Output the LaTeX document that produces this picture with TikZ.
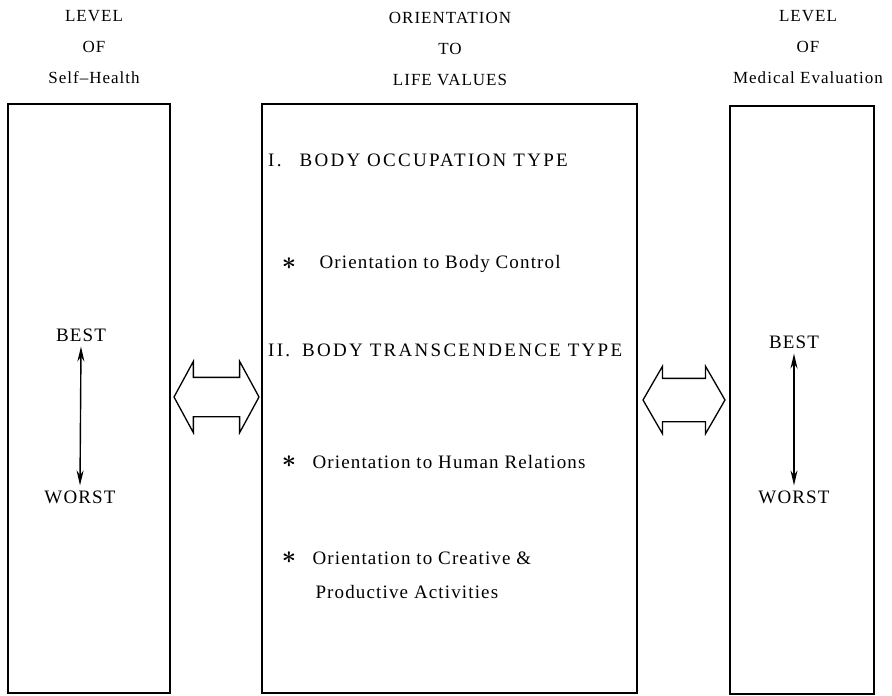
\documentclass[tikz,border=0pt]{standalone}
\usepackage{fontspec}
\setmainfont[LetterSpace=6]{Liberation Serif}
\usetikzlibrary{arrows.meta, positioning, shapes.arrows}

\begin{document}
\begin{tikzpicture}[x=1pt, y=-1pt,
    panel/.style={draw, line width=1.3pt, inner sep=0pt},
    headtext/.style={align=center, inner sep=0pt,
      font=\fontsize{17}{31}\selectfont},
    bodytext/.style={anchor=west, inner sep=0pt,
      font=\fontsize{19}{23}\selectfont},
    capstext/.style={bodytext, font=\fontsize{19}{23}\selectfont
      \addfontfeature{LetterSpace=12}},
    scaletext/.style={inner sep=5pt, font=\fontsize{19}{23}\selectfont},
    startext/.style={inner sep=0pt, font=\fontsize{30}{30}\selectfont\boldmath},
    linkarrow/.style={double arrow, draw, line width=1.3pt, inner xsep=0pt,
      double arrow head indent=0pt},
    >={Stealth[length=15pt, width=7pt]}
  ]
  \useasboundingbox (0,0) rectangle (892,696);

  \node[headtext] (selfhead) at (94,47) {LEVEL\\OF\\Self--Health};
  \node[headtext] (lifehead) at (450,49) {ORIENTATION\\TO\\LIFE VALUES};
  \node[headtext] (medhead) at (808,47) {LEVEL\\OF\\Medical Evaluation};

  \node[panel, minimum width=162pt, minimum height=589pt] (selfbox)
    at (89,398.5) {};
  \node[panel, minimum width=375pt, minimum height=589pt] (lifebox)
    at (449.5,398.5) {};
  \node[panel, minimum width=144pt, minimum height=588pt] (medbox)
    at (802,400) {};

  \node[scaletext] (selfbest) at (81,335) {BEST};
  \node[scaletext] (selfworst) at (80,497) {WORST};
  \draw[<->, line width=1.4pt] (selfbest.south) -- (selfworst.north);

  \node[scaletext] (medbest) at (794,342) {BEST};
  \node[scaletext] (medworst) at (794,497) {WORST};
  \draw[<->, line width=1.4pt] (medbest.south) -- (medworst.north);

  \node[linkarrow, minimum height=85pt, inner ysep=19pt,
    double arrow head extend=16pt, double arrow tip angle=123]
    (leftlink) at (216.5,397) {};
  \node[linkarrow, minimum height=82pt, inner ysep=21pt,
    double arrow head extend=12pt, double arrow tip angle=120]
    (rightlink) at (684,400) {};

  \node[capstext] (typeone) at (268,160)
    {I.\hspace{18pt}BODY OCCUPATION TYPE};
  \node[startext] (starone) at (289,264) {$\ast$};
  \node[bodytext, right=23pt of starone] (bodyctrl)
    {Orientation to Body Control};
  \node[capstext] (typetwo) at (268,350)
    {II.\hspace{12pt}BODY TRANSCENDENCE TYPE};
  \node[startext] (startwo) at (289,462) {$\ast$};
  \node[bodytext, right=16pt of startwo] (humanrel)
    {Orientation to Human Relations};
  \node[startext] (starthree) at (289,558) {$\ast$};
  \node[bodytext, right=16pt of starthree] (creative)
    {Orientation to Creative \&};
  \node[bodytext, below=34pt of creative.west, anchor=west] (productive)
    {\hspace{3pt}Productive Activities};
\end{tikzpicture}
\end{document}
